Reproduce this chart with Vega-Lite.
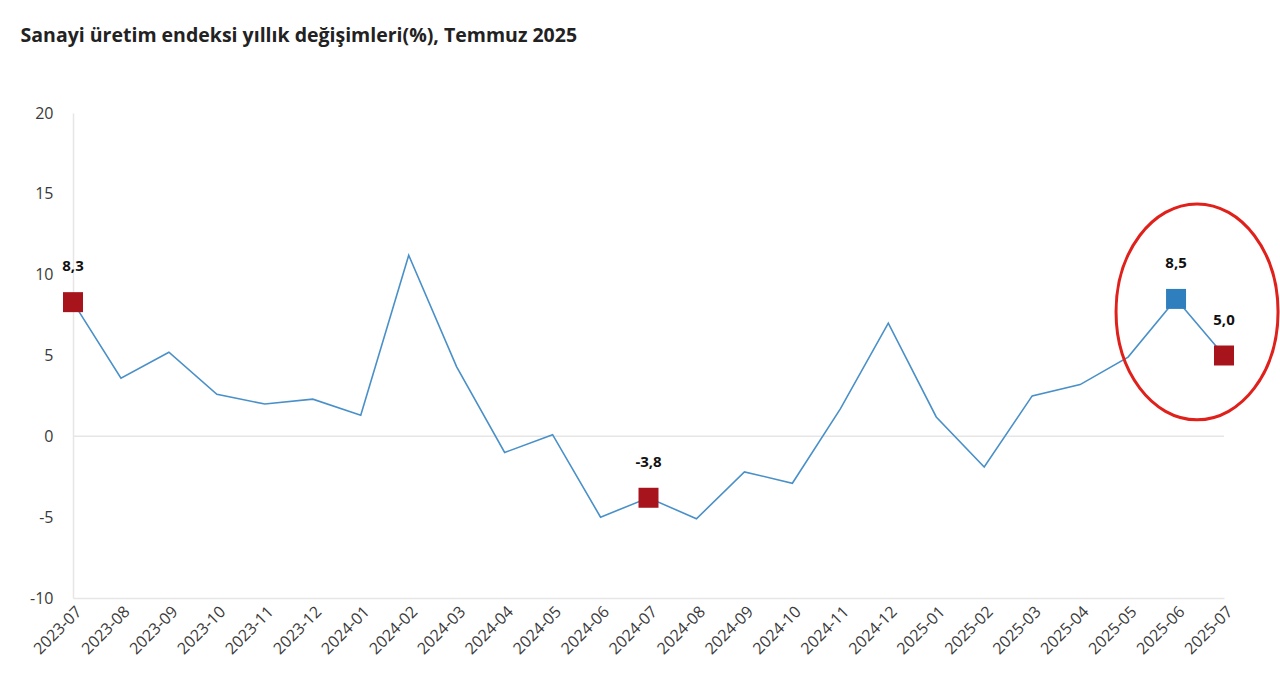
{
  "$schema": "https://vega.github.io/schema/vega-lite/v6.json",
  "width": 1151,
  "height": 485,
  "autosize": "none",
  "padding": {"left": 73, "top": 113, "right": 56, "bottom": 101},
  "background": "white",
  "title": {
    "text": "Sanayi üretim endeksi yıllık değişimleri(%), Temmuz 2025",
    "anchor": "start",
    "dx": -9,
    "offset": 59,
    "font": "Open Sans",
    "fontSize": 19.5,
    "fontWeight": "bold",
    "color": "#222222"
  },
  "config": {
    "view": {"stroke": null},
    "locale": {"number": {"decimal": ",", "thousands": ".", "grouping": [3], "currency": ["", " ₺"], "minus": "-"}}
  },
  "datasets": {
    "series": [
      {"month": "2023-07", "value": 8.3, "hl": "red"},
      {"month": "2023-08", "value": 3.6, "hl": null},
      {"month": "2023-09", "value": 5.2, "hl": null},
      {"month": "2023-10", "value": 2.6, "hl": null},
      {"month": "2023-11", "value": 2.0, "hl": null},
      {"month": "2023-12", "value": 2.3, "hl": null},
      {"month": "2024-01", "value": 1.3, "hl": null},
      {"month": "2024-02", "value": 11.2, "hl": null},
      {"month": "2024-03", "value": 4.3, "hl": null},
      {"month": "2024-04", "value": -1.0, "hl": null},
      {"month": "2024-05", "value": 0.1, "hl": null},
      {"month": "2024-06", "value": -5.0, "hl": null},
      {"month": "2024-07", "value": -3.8, "hl": "red"},
      {"month": "2024-08", "value": -5.1, "hl": null},
      {"month": "2024-09", "value": -2.2, "hl": null},
      {"month": "2024-10", "value": -2.9, "hl": null},
      {"month": "2024-11", "value": 1.7, "hl": null},
      {"month": "2024-12", "value": 7.0, "hl": null},
      {"month": "2025-01", "value": 1.2, "hl": null},
      {"month": "2025-02", "value": -1.9, "hl": null},
      {"month": "2025-03", "value": 2.5, "hl": null},
      {"month": "2025-04", "value": 3.2, "hl": null},
      {"month": "2025-05", "value": 4.9, "hl": null},
      {"month": "2025-06", "value": 8.5, "hl": "blue"},
      {"month": "2025-07", "value": 5.0, "hl": "red"}
    ],
    "zero": [{"value": 0}],
    "ring": [{"month": "2025-06", "value": 7.7}]
  },
  "encoding": {
    "x": {
      "field": "month",
      "type": "ordinal",
      "scale": {"type": "point", "padding": 0},
      "axis": {
        "title": null,
        "labelAngle": -45,
        "labelFont": "Open Sans",
        "labelFontSize": 16,
        "labelColor": "#3a3a3a",
        "labelPadding": 5,
        "ticks": false,
        "domainColor": "#e6e6e6",
        "domainWidth": 1.5,
        "grid": false
      }
    },
    "y": {
      "field": "value",
      "type": "quantitative",
      "scale": {"domain": [-10, 20], "nice": false},
      "axis": {
        "title": null,
        "values": [-10, -5, 0, 5, 10, 15, 20],
        "format": "d",
        "labelFont": "Open Sans",
        "labelFontSize": 16,
        "labelColor": "#3a3a3a",
        "labelPadding": 20,
        "ticks": false,
        "domainColor": "#e6e6e6",
        "domainWidth": 1.5,
        "grid": false
      }
    }
  },
  "layer": [
    {
      "data": {"name": "zero"},
      "mark": {"type": "rule", "color": "#e6e6e6", "strokeWidth": 1.5},
      "encoding": {"x": null, "y": {"field": "value", "type": "quantitative"}}
    },
    {
      "data": {"name": "series"},
      "mark": {"type": "line", "color": "#4a90c8", "strokeWidth": 1.6}
    },
    {
      "data": {"name": "series"},
      "transform": [{"filter": "datum.hl != null"}],
      "mark": {"type": "point", "shape": "square", "filled": true, "size": 400, "opacity": 1},
      "encoding": {
        "color": {
          "field": "hl",
          "type": "nominal",
          "scale": {"domain": ["red", "blue"], "range": ["#a8141c", "#2f7fbf"]},
          "legend": null
        }
      }
    },
    {
      "data": {"name": "series"},
      "transform": [{"filter": "datum.hl != null"}],
      "mark": {"type": "text", "dy": -36, "font": "Open Sans", "fontSize": 15, "fontWeight": "bold", "color": "#111111"},
      "encoding": {"text": {"field": "value", "type": "quantitative", "format": ".1f"}}
    },
    {
      "data": {"name": "ring"},
      "mark": {
        "type": "point",
        "shape": "M -1 0 A 1 1.333 0 1 0 1 0 A 1 1.333 0 1 0 -1 0 Z",
        "size": 26244,
        "filled": false,
        "stroke": "#e0201b",
        "strokeWidth": 3,
        "opacity": 1,
        "xOffset": 21
      }
    }
  ]
}
